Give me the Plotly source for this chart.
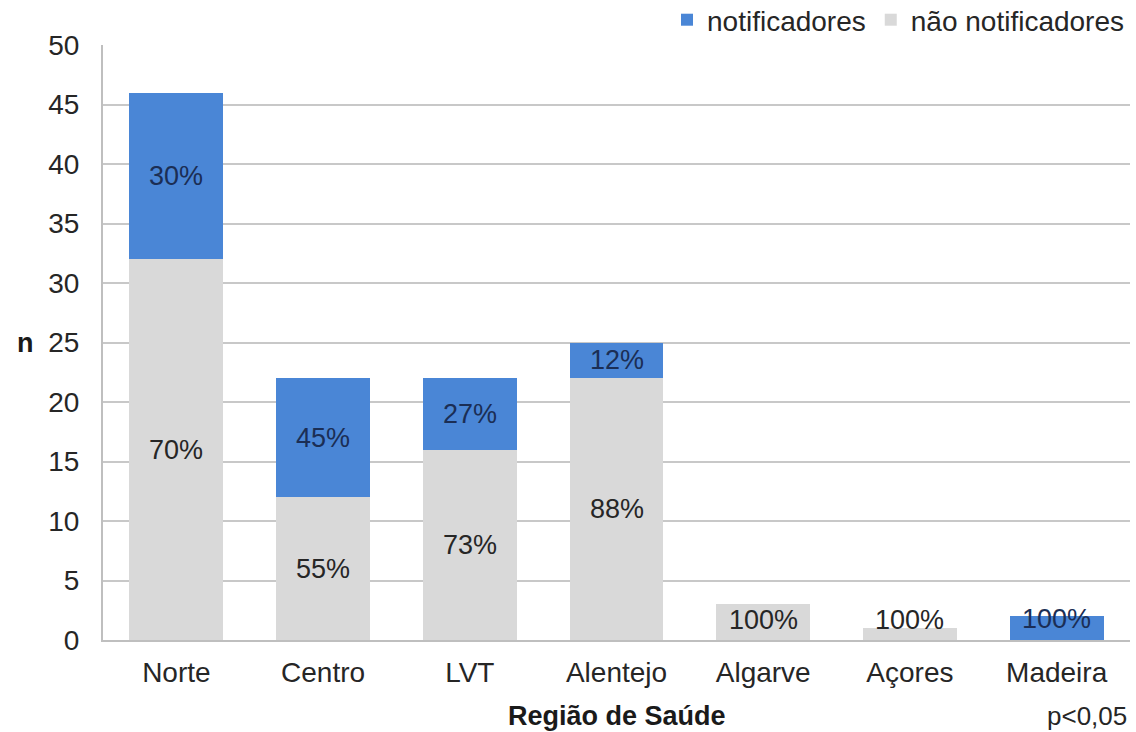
import plotly.graph_objects as go

regioes = ["Norte", "Centro", "LVT", "Alentejo", "Algarve", "Açores", "Madeira"]
nao_notificadores = [32, 12, 16, 22, 3, 1, 0]
notificadores = [14, 10, 6, 3, 0, 0, 2]
pct_nao = ["70%", "55%", "73%", "88%", "100%", "100%", ""]
pct_notif = ["30%", "45%", "27%", "12%", "", "", "100%"]

BLUE = "#4A86D6"
GRAY = "#D9D9D9"
FONT = "Liberation Sans, Arial, sans-serif"
FS_LAB = 27
FS = 28

fig = go.Figure()
fig.add_trace(go.Bar(x=regioes, y=nao_notificadores, name="não notificadores",
                     marker=dict(color=GRAY, line=dict(width=0))))
fig.add_trace(go.Bar(x=regioes, y=notificadores, name="notificadores",
                     marker=dict(color=BLUE, line=dict(width=0))))

# segment labels
for i, r in enumerate(regioes):
    g = nao_notificadores[i]
    b = notificadores[i]
    if pct_nao[i]:
        fig.add_annotation(x=r, y=max(g / 2, 1.65), text=pct_nao[i], showarrow=False,
                           font=dict(family=FONT, size=FS_LAB, color="#262626"))
    if pct_notif[i]:
        fig.add_annotation(x=r, y=max(g + b / 2, 1.8), text=pct_notif[i], showarrow=False,
                           font=dict(family=FONT, size=FS_LAB, color="#1B2E55"))

# axis titles and note
fig.add_annotation(xref="paper", yref="paper", x=0.5, y=-0.128, xanchor="center", yanchor="middle",
                   text="<b>Região de Saúde</b>", showarrow=False,
                   font=dict(family=FONT, size=FS - 1, color="#1a1a1a"))
fig.add_annotation(xref="paper", yref="paper", x=-0.075, y=0.5, xanchor="center", yanchor="middle",
                   text="<b>n</b>", showarrow=False,
                   font=dict(family=FONT, size=FS - 1, color="#1a1a1a"))
fig.add_annotation(xref="paper", yref="paper", x=0.998, y=-0.128, xanchor="right", yanchor="middle",
                   text="p<0,05", showarrow=False, borderpad=0,
                   font=dict(family=FONT, size=FS - 2, color="#262626"))

fig.update_layout(
    width=1136, height=732,
    margin=dict(l=103, r=6, t=45, b=92, autoexpand=False),
    paper_bgcolor="white", plot_bgcolor="white",
    barmode="stack", bargap=0.36,
    font=dict(family=FONT, size=FS, color="#262626"),
    showlegend=True,
    legend=dict(orientation="h", xref="paper", yref="paper", x=1.0, xanchor="right",
                y=1.042, yanchor="middle",
                traceorder="reversed", font=dict(family=FONT, size=FS, color="#262626"),
                bgcolor="rgba(0,0,0,0)", itemwidth=30, tracegroupgap=0),
    xaxis=dict(showline=True, linecolor="#BFBFBF", linewidth=2, ticks="", showgrid=False,
               automargin=False, ticklabelstandoff=6,
               tickfont=dict(family=FONT, size=FS, color="#262626")),
    yaxis=dict(range=[0, 50], dtick=5, showline=True, linecolor="#BFBFBF", linewidth=2,
               showgrid=True, gridcolor="#C8C8C8", gridwidth=1.5, zeroline=False, ticks="",
               automargin=False, ticklabelstandoff=16,
               tickfont=dict(family=FONT, size=FS, color="#262626")),
)

fig.write_html("out.html", config={"displayModeBar": False},
               post_script="document.body.style.margin='0';document.body.style.overflow='hidden';")
